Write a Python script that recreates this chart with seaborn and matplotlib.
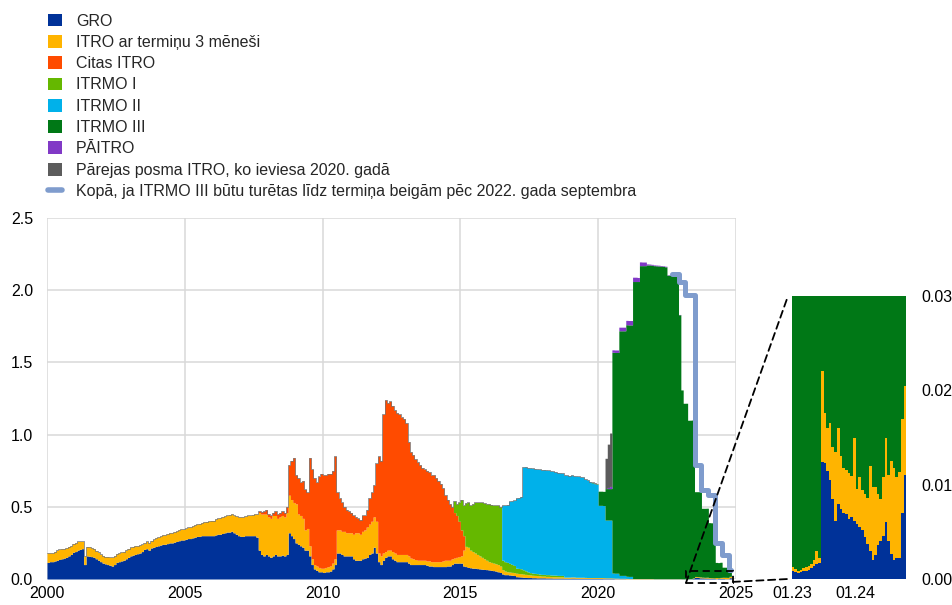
import numpy as np
import pandas as pd
import matplotlib
matplotlib.use("Agg")
import matplotlib.pyplot as plt
import matplotlib.dates as mdates
from matplotlib.patches import Patch, Rectangle, ConnectionPatch
from matplotlib.lines import Line2D
from matplotlib.ticker import FormatStrFormatter
import seaborn as sns

# ---------------- data (EUR trillions, monthly from 2000-01) ----------------
gro = [
    0.115, 0.12, 0.12, 0.125, 0.13, 0.135, 0.14, 0.145, 0.15, 0.16, 0.17, 0.185,   # 2000
    0.19, 0.2, 0.205, 0.21, 0.10, 0.16, 0.158, 0.155, 0.15, 0.14, 0.13, 0.12,       # 2001
    0.11, 0.105, 0.10, 0.095, 0.09, 0.10, 0.115, 0.12, 0.125, 0.13, 0.14, 0.15,     # 2002
    0.16, 0.165, 0.17, 0.175, 0.18, 0.19, 0.205, 0.21, 0.20, 0.215, 0.22, 0.225,    # 2003
    0.23, 0.235, 0.24, 0.24, 0.245, 0.25, 0.25, 0.255, 0.26, 0.265, 0.27, 0.27,     # 2004
    0.275, 0.28, 0.28, 0.285, 0.29, 0.295, 0.295, 0.30, 0.30, 0.30, 0.30, 0.30,     # 2005
    0.30, 0.305, 0.31, 0.31, 0.315, 0.32, 0.325, 0.325, 0.33, 0.32, 0.31, 0.30,     # 2006
    0.295, 0.295, 0.30, 0.30, 0.30, 0.30, 0.30, 0.29, 0.20, 0.17, 0.16, 0.17,       # 2007
    0.16, 0.15, 0.16, 0.17, 0.16, 0.16, 0.165, 0.16, 0.17, 0.32, 0.30, 0.28,        # 2008
    0.25, 0.24, 0.23, 0.22, 0.20, 0.20, 0.16, 0.10, 0.07, 0.06, 0.05, 0.05,         # 2009
    0.045, 0.05, 0.05, 0.055, 0.07, 0.10, 0.18, 0.18, 0.17, 0.16, 0.16, 0.16,       # 2010
    0.16, 0.14, 0.13, 0.13, 0.13, 0.14, 0.145, 0.15, 0.17, 0.18, 0.22, 0.18,        # 2011
    0.12, 0.10, 0.13, 0.15, 0.16, 0.16, 0.14, 0.13, 0.12, 0.12, 0.12, 0.12,         # 2012
    0.12, 0.11, 0.10, 0.10, 0.10, 0.10, 0.10, 0.10, 0.10, 0.095, 0.09, 0.09,        # 2013
    0.086, 0.086, 0.086, 0.086, 0.086, 0.086, 0.09, 0.09, 0.10, 0.11, 0.11, 0.11,   # 2014
    0.11, 0.09, 0.086, 0.08, 0.078, 0.075, 0.075, 0.072, 0.07, 0.068, 0.066, 0.065, # 2015
    0.063, 0.06, 0.058, 0.055, 0.05, 0.045, 0.035, 0.03, 0.03, 0.028, 0.026, 0.024, # 2016
    0.016, 0.015, 0.014, 0.012, 0.011, 0.01, 0.01, 0.009, 0.009, 0.008, 0.008, 0.008,  # 2017
    0.008, 0.007, 0.007, 0.007, 0.006, 0.006, 0.006, 0.006, 0.006, 0.005, 0.005, 0.005,  # 2018
    0.006, 0.006, 0.005, 0.005, 0.005, 0.005, 0.005, 0.004, 0.004, 0.004, 0.004, 0.004,  # 2019
    0.004, 0.004, 0.003, 0.003, 0.003, 0.003, 0.003, 0.002, 0.002, 0.002, 0.002, 0.002,  # 2020
    0.001, 0.001, 0.001, 0.001, 0.001, 0.001, 0.001, 0.001, 0.001, 0.001, 0.001, 0.001,  # 2021
    0.001, 0.001, 0.001, 0.001, 0.001, 0.001, 0.001, 0.001, 0.001, 0.001, 0.001, 0.001,  # 2022
    0.0008, 0.0007, 0.0008, 0.001, 0.0013, 0.005, 0.0123, 0.011, 0.008, 0.0075, 0.0068, 0.0063,  # 2023
    0.0056, 0.0048, 0.0033, 0.0023, 0.0038, 0.005, 0.0033, 0.0021, 0.0022, 0.009, 0.0098,         # 2024
]
itro_3m = [
    0.065, 0.06, 0.06, 0.065, 0.07, 0.07, 0.07, 0.065, 0.065, 0.065, 0.06, 0.06,
    0.06, 0.06, 0.055, 0.05, 0.06, 0.065, 0.065, 0.06, 0.06, 0.055, 0.055, 0.05,
    0.05, 0.05, 0.055, 0.055, 0.06, 0.06, 0.06, 0.06, 0.06, 0.06, 0.06, 0.06,
    0.06, 0.06, 0.06, 0.055, 0.055, 0.05, 0.045, 0.05, 0.05, 0.05, 0.055, 0.06,
    0.06, 0.062, 0.065, 0.065, 0.068, 0.07, 0.07, 0.072, 0.072, 0.075, 0.075, 0.075,
    0.075, 0.078, 0.08, 0.082, 0.085, 0.085, 0.088, 0.09, 0.095, 0.098, 0.10, 0.105,
    0.105, 0.11, 0.11, 0.115, 0.115, 0.115, 0.115, 0.12, 0.12, 0.12, 0.125, 0.13,
    0.135, 0.135, 0.135, 0.14, 0.14, 0.145, 0.15, 0.16, 0.26, 0.28, 0.29, 0.28,
    0.27, 0.27, 0.28, 0.27, 0.26, 0.27, 0.275, 0.27, 0.29, 0.26, 0.25, 0.25,
    0.27, 0.21, 0.21, 0.20, 0.14, 0.15, 0.07, 0.04, 0.03, 0.03, 0.03, 0.025,
    0.03, 0.03, 0.035, 0.035, 0.04, 0.04, 0.16, 0.16, 0.16, 0.17, 0.16, 0.16,
    0.16, 0.17, 0.19, 0.19, 0.18, 0.19, 0.195, 0.21, 0.21, 0.22, 0.21, 0.22,
    0.06, 0.06, 0.05, 0.04, 0.04, 0.04, 0.05, 0.05, 0.05, 0.05, 0.05, 0.05,
    0.05, 0.05, 0.045, 0.04, 0.035, 0.03, 0.03, 0.03, 0.03, 0.03, 0.035, 0.03,
    0.034, 0.034, 0.034, 0.034, 0.039, 0.044, 0.04, 0.04, 0.04, 0.035, 0.04, 0.045,
    0.05, 0.11, 0.14, 0.14, 0.122, 0.115, 0.105, 0.098, 0.09, 0.082, 0.074, 0.065,
    0.057, 0.055, 0.052, 0.05, 0.05, 0.045, 0.03, 0.025, 0.02, 0.02, 0.02, 0.02,
    0.024, 0.023, 0.022, 0.022, 0.021, 0.02, 0.018, 0.017, 0.016, 0.016, 0.014, 0.012,
    0.012, 0.011, 0.011, 0.01, 0.01, 0.01, 0.009, 0.009, 0.009, 0.008, 0.008, 0.008,
    0.008, 0.008, 0.007, 0.007, 0.007, 0.007, 0.006, 0.006, 0.006, 0.006, 0.006, 0.006,
    0.006, 0.006, 0.006, 0.005, 0.005, 0.005, 0.004, 0.004, 0.004, 0.003, 0.003, 0.003,
    0.003, 0.002, 0.002, 0.002, 0.002, 0.002, 0.002, 0.002, 0.002, 0.002, 0.002, 0.002,
    0.001, 0.001, 0.001, 0.001, 0.001, 0.001, 0.001, 0.001, 0.001, 0.001, 0.001, 0.001,
    0.0005, 0.0003, 0.0004, 0.0004, 0.0006, 0.003, 0.0053, 0.0055, 0.0065, 0.0052, 0.0048, 0.006,
    0.0045, 0.0042, 0.0047, 0.0075, 0.0048, 0.006, 0.0085, 0.0095, 0.0089, 0.0095, 0.01,
]
citas_itro_start = "2007-09-01"
citas_itro = [
    0.01, 0.015, 0.02, 0.03,
    0.02, 0.02, 0.02, 0.03, 0.03, 0.03, 0.03, 0.03, 0.04, 0.21, 0.27, 0.31,
    0.20, 0.25, 0.23, 0.26, 0.28, 0.25, 0.61, 0.62, 0.60, 0.58, 0.63, 0.655,
    0.645, 0.64, 0.645, 0.64, 0.64, 0.71, 0.26, 0.22, 0.20, 0.17, 0.16, 0.15,
    0.14, 0.13, 0.11, 0.10, 0.10, 0.11, 0.10, 0.12, 0.18, 0.20, 0.22, 0.40,
    0.67, 0.66, 0.96, 1.05, 1.02, 1.03, 1.01, 0.99, 0.98, 0.97, 0.95, 0.94,
    0.91, 0.79, 0.735, 0.72, 0.695, 0.68, 0.66, 0.64, 0.63, 0.625, 0.615, 0.60,
    0.60, 0.58, 0.56, 0.54, 0.505, 0.45, 0.42, 0.39, 0.36, 0.315, 0.29, 0.245,
    0.18, 0.10,
]
itrmo1_start = "2014-10-01"
itrmo1 = [
    0.08, 0.08, 0.13,
    0.21, 0.21, 0.30, 0.31, 0.31, 0.33, 0.35, 0.36, 0.37, 0.38, 0.385, 0.39,
    0.40, 0.40, 0.40, 0.405, 0.41, 0.41, 0.065, 0.065, 0.065, 0.06, 0.055, 0.05,
    0.035, 0.035, 0.035, 0.03, 0.025, 0.02, 0.016, 0.015, 0.014, 0.013, 0.012, 0.012,
    0.012, 0.012, 0.012, 0.011, 0.011, 0.011, 0.01, 0.01, 0.01,
]
itrmo2_start = "2016-07-01"
itrmo2 = [
    0.38, 0.39, 0.40, 0.43, 0.44, 0.45,
    0.485, 0.49, 0.50, 0.711, 0.72, 0.72, 0.725, 0.725, 0.725, 0.724, 0.725, 0.724,
    0.725, 0.724, 0.722, 0.72, 0.718, 0.715, 0.712, 0.71, 0.708, 0.707, 0.705, 0.703,
    0.705, 0.70, 0.70, 0.698, 0.695, 0.693, 0.68, 0.675, 0.665, 0.655, 0.65, 0.645,
    0.50, 0.50, 0.50, 0.40, 0.40, 0.40, 0.034, 0.034, 0.034, 0.02, 0.02, 0.02,
    0.015, 0.015, 0.015,
]
itrmo3_start = "2019-10-01"
itrmo3 = [
    0.0034, 0.0034, 0.0034,
    0.098, 0.098, 0.098, 0.218, 0.218, 0.218, 1.529, 1.529, 1.529, 1.694, 1.694, 1.694,
    1.742, 1.742, 1.742, 2.057, 2.057, 2.057, 2.167, 2.167, 2.167, 2.172, 2.172, 2.170,
    2.168, 2.167, 2.166, 2.165, 2.163, 2.160, 2.102, 2.102, 2.102, 2.102, 2.102, 1.828,
    1.308, 1.216, 1.216, 1.098, 1.098, 1.095, 0.587, 0.588, 0.590, 0.477, 0.478, 0.478,
    0.380, 0.380, 0.381, 0.105, 0.105, 0.105, 0.070, 0.070, 0.070, 0.035, 0.035,
]
paitro_start = "2020-05-01"
paitro = [
    0.008, 0.015, 0.017, 0.017, 0.017, 0.025, 0.025, 0.025,
    0.03, 0.03, 0.03, 0.03, 0.03, 0.028, 0.026, 0.025, 0.025, 0.007, 0.006, 0.006,
    0.005, 0.005, 0.005, 0.004, 0.004, 0.004, 0.003, 0.003, 0.003, 0.002, 0.002, 0.002,
]
bridge_start = "2020-04-01"
bridge_itro = [0.21, 0.30, 0.37]

held_start = "2022-09-01"
held_total = [
    2.11, 2.11, 2.11, 2.06,
    2.06, 2.06, 1.967, 1.967, 1.967, 1.967, 0.79, 0.79, 0.79, 0.615, 0.615, 0.615,
    0.58, 0.58, 0.58, 0.25, 0.25, 0.25, 0.165, 0.165, 0.165, 0.062, 0.062,
]

# inset detail (semi-monthly from 2023-01-01)
zoom_start = "2023-01-01"
zoom_gro = [
    0.0008, 0.0007, 0.0006, 0.0007, 0.0008, 0.0009, 0.0010, 0.0012, 0.0014, 0.0016, 0.0017,
    0.0124, 0.0123, 0.0115, 0.0105, 0.0085, 0.0062, 0.0080, 0.0074, 0.0070, 0.0069, 0.0064,
    0.0066, 0.0061, 0.0058, 0.0055, 0.0052, 0.0045, 0.0037, 0.0030, 0.0020, 0.0025, 0.0036,
    0.0040, 0.0046, 0.0060, 0.0040, 0.0026, 0.0020, 0.0022, 0.0022, 0.0070, 0.0110, 0.0098,
]
zoom_itro_3m = [
    0.0005, 0.0004, 0.0003, 0.0003, 0.0004, 0.0004, 0.0004, 0.0004, 0.0006, 0.0014, 0.0005,
    0.0096, 0.0053, 0.0045, 0.0060, 0.0055, 0.0073, 0.0080, 0.0056, 0.0048, 0.0047, 0.0048,
    0.0043, 0.0089, 0.0037, 0.0053, 0.0042, 0.0045, 0.0049, 0.0090, 0.0078, 0.0072, 0.0054,
    0.0045, 0.0062, 0.0090, 0.0070, 0.0099, 0.0098, 0.0086, 0.0091, 0.0100, 0.0095, 0.0109,
]

labels = ["GRO", "ITRO ar termiņu 3 mēneši", "Citas ITRO", "ITRMO I", "ITRMO II",
          "ITRMO III", "PĀITRO", "Pārejas posma ITRO, ko ieviesa 2020. gadā"]
held_label = "Kopā, ja ITRMO III būtu turētas līdz termiņa beigām pēc 2022. gada septembra"
colors = ["#003299", "#FFB400", "#FF4B00", "#65B800", "#00B1EA", "#007816", "#8139C6", "#5C5C5C"]
held_color = "#7F9CCD"

# ---------------- build frame ----------------
dates = pd.date_range("2000-01-01", periods=len(gro), freq="MS")


def on_grid(start, values, grid):
    s = pd.Series(values, index=pd.date_range(start, periods=len(values), freq="MS"))
    return s.reindex(grid, fill_value=0.0).to_numpy()


df = pd.DataFrame({"date": dates})
df[labels[0]] = gro
df[labels[1]] = itro_3m
df[labels[2]] = on_grid(citas_itro_start, citas_itro, dates)
df[labels[3]] = on_grid(itrmo1_start, itrmo1, dates)
df[labels[4]] = on_grid(itrmo2_start, itrmo2, dates)
df[labels[5]] = on_grid(itrmo3_start, itrmo3, dates)
df[labels[6]] = on_grid(paitro_start, paitro, dates)
df[labels[7]] = on_grid(bridge_start, bridge_itro, dates)

held = pd.DataFrame({"date": pd.date_range(held_start, periods=len(held_total), freq="MS"),
                     "value": held_total})

zoom_dates = pd.date_range(zoom_start, periods=len(zoom_gro), freq="SMS")
zoom = pd.DataFrame({"date": zoom_dates, "gro": zoom_gro, "itro": zoom_itro_3m})
zoom["itrmo3"] = df.set_index("date")[labels[5]].reindex(zoom_dates, method="ffill").to_numpy()

# ---------------- style ----------------
sns.set_theme(style="white")
plt.rcParams["font.family"] = ["Liberation Sans", "DejaVu Sans"]
FS = 11.5
plt.rcParams["font.size"] = FS

fig = plt.figure(figsize=(9.52, 6.05), dpi=100)
W, H = 952.0, 605.0
ax = fig.add_axes([47 / W, 1 - 579 / H, (736 - 47) / W, (579 - 218) / H])

base = np.zeros(len(df))
for lab, col in zip(labels, colors):
    top = base + df[lab].to_numpy()
    ax.fill_between(df["date"], base, top, step="post", color=col, lw=0, zorder=2)
    base = top

# thin grey edge along the top of the stack (pre-2020)
mask = (df["date"] < "2020-01-01").to_numpy()
edge = pd.DataFrame({"date": df["date"][mask], "total": base[mask]})
sns.lineplot(data=edge, x="date", y="total", ax=ax, color="#707070", lw=0.5,
             drawstyle="steps-post", estimator=None, zorder=3)

sns.lineplot(data=held, x="date", y="value", ax=ax, color=held_color, lw=3.6,
             drawstyle="steps-post", estimator=None, zorder=4)

ax.set_xlim(pd.Timestamp("2000-01-01"), pd.Timestamp("2025-01-01"))
ax.set_ylim(0, 2.5)
ax.xaxis.set_major_locator(mdates.YearLocator(5))
ax.xaxis.set_major_formatter(mdates.DateFormatter("%Y"))
ax.set_yticks(np.arange(0, 2.51, 0.5))
ax.yaxis.set_major_formatter(FormatStrFormatter("%.1f"))
ax.grid(True, color="#D9D9D9", lw=1.1, zorder=0)
ax.set_axisbelow(True)
for sp in ax.spines.values():
    sp.set_visible(False)
ax.tick_params(axis="both", length=0, labelsize=FS, colors="black")
ax.tick_params(axis="y", pad=10)
ax.tick_params(axis="x", pad=5)
ax.set_xlabel("")
ax.set_ylabel("")

# ---------------- inset ----------------
axin = fig.add_axes([792 / W, 1 - 579 / H, (906 - 792) / W, (579 - 296) / H])
zb = np.zeros(len(zoom))
for key, col in [("gro", colors[0]), ("itro", colors[1]), ("itrmo3", colors[5])]:
    zt = zb + zoom[key].to_numpy()
    axin.fill_between(zoom["date"], zb, zt, step="post", color=col, lw=0)
    zb = zt
axin.set_xlim(pd.Timestamp("2023-01-01"), pd.Timestamp("2024-10-15"))
axin.set_ylim(0, 0.03)
axin.yaxis.tick_right()
axin.set_yticks([0.0, 0.01, 0.02, 0.03])
axin.yaxis.set_major_formatter(FormatStrFormatter("%.2f"))
axin.set_xticks([pd.Timestamp("2023-01-01"), pd.Timestamp("2024-01-01")])
axin.xaxis.set_major_formatter(mdates.DateFormatter("%m.%y"))
axin.tick_params(axis="both", length=0, labelsize=FS, colors="black")
axin.tick_params(axis="y", pad=11)
axin.tick_params(axis="x", pad=5)
axin.grid(False)
for sp in axin.spines.values():
    sp.set_visible(False)

# zoom rectangle and connectors
x0 = mdates.date2num(pd.Timestamp("2023-03-09"))
x1 = mdates.date2num(pd.Timestamp("2024-11-20"))
rect = Rectangle((x0, -0.028), x1 - x0, 0.083, fill=False, ec="black", lw=1.3,
                 ls=(0, (4, 2.5)), clip_on=False, zorder=6)
ax.add_patch(rect)
for ya, yb, xa in [(-0.028, 1.0, x0), (-0.02, 0.0, x1)]:
    cp = ConnectionPatch(xyA=(xa, ya), coordsA=ax.transData,
                         xyB=(-0.035, yb), coordsB=axin.transAxes,
                         color="black", lw=1.3, ls=(0, (4, 2.5)), zorder=6)
    fig.add_artist(cp)

# ---------------- legend ----------------
handles = [Patch(facecolor=c, edgecolor="none", label=l) for l, c in zip(labels, colors)]
handles.append(Line2D([0], [0], color=held_color, lw=4, label=held_label))
fig.legend(handles=handles, loc="upper left", bbox_to_anchor=(48 / W, 1 - 13.5 / H),
           frameon=False, fontsize=FS, handlelength=0.9, handleheight=0.85,
           handletextpad=0.85, labelspacing=0.395, borderpad=0, borderaxespad=0)

fig.savefig("out.png", dpi=100)
